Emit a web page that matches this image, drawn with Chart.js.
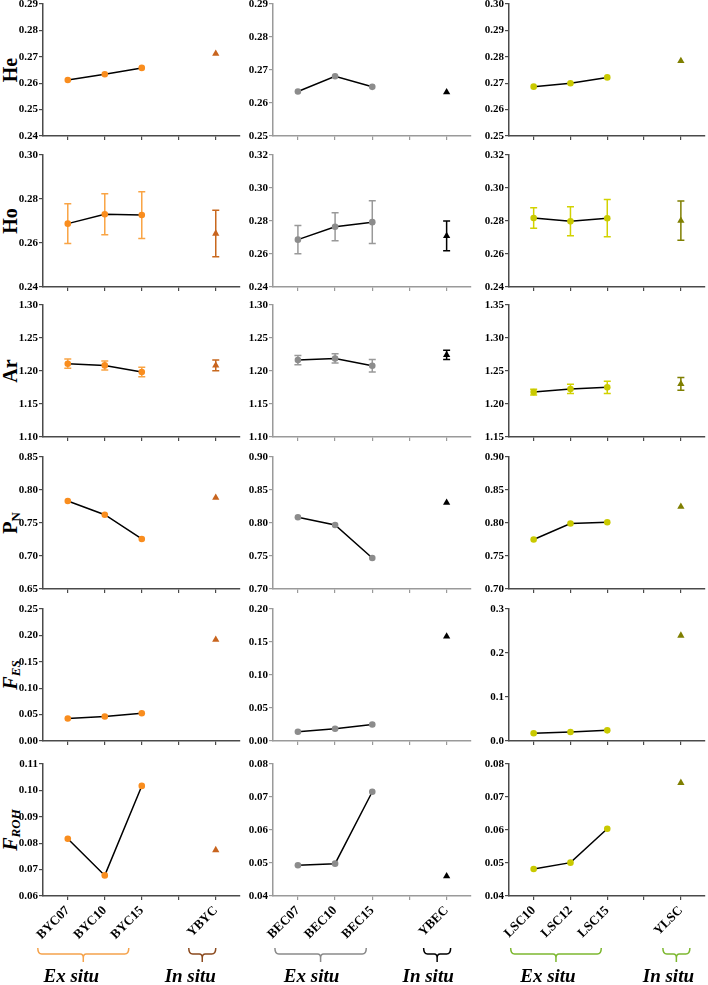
<!DOCTYPE html>
<html>
<head>
<meta charset="utf-8">
<script src="https://cdn.jsdelivr.net/npm/chart.js@4.4.1/dist/chart.umd.min.js"></script>
<style>
  body { margin: 0; background: #fff; width: 708px; height: 985px; position: relative; overflow: hidden; font-family: 'Liberation Serif', serif; }
  canvas { position: absolute; }
  .ytitle { position: absolute; width: 132px; height: 24px; line-height: 24px; text-align: center;
            font-weight: bold; font-size: 20px; transform: rotate(-90deg); white-space: nowrap; }
  .ytitle sub { font-size: 13px; vertical-align: -3px; }
</style>
</head>
<body>
<script>
// categories (4th slot is the empty gap between ex situ and in situ)
const catsBYC = ['BYC07', 'BYC10', 'BYC15', '', 'YBYC'];
const catsBEC = ['BEC07', 'BEC10', 'BEC15', '', 'YBEC'];
const catsLSC = ['LSC10', 'LSC12', 'LSC15', '', 'YLSC'];

// values: three ex situ populations, then the in situ one
const heBYC = [0.2612, 0.2634, 0.2658, 0.2712];
const heBEC = [0.2635, 0.2681, 0.2649, 0.2633];
const heLSC = [0.2687, 0.2700, 0.2722, 0.2784];

const hoBYC = [0.2688, 0.2731, 0.2727, 0.2643];
const hoErrBYC = [0.0090, 0.0093, 0.0106, 0.0106];
const hoBEC = [0.2687, 0.2765, 0.2793, 0.2710];
const hoErrBEC = [0.0086, 0.0085, 0.0130, 0.0090];
const hoLSC = [0.2818, 0.2798, 0.2817, 0.2802];
const hoErrLSC = [0.0062, 0.0088, 0.0113, 0.0119];

const arBYC = [1.2110, 1.2085, 1.1985, 1.2085];
const arErrBYC = [0.0070, 0.0068, 0.0073, 0.0083];
const arBEC = [1.2165, 1.2190, 1.2080, 1.2245];
const arErrBEC = [0.0070, 0.0070, 0.0096, 0.0070];
const arLSC = [1.2180, 1.2228, 1.2252, 1.2305];
const arErrLSC = [0.0043, 0.0070, 0.0094, 0.0097];

const pnBYC = [0.7833, 0.7626, 0.7258, 0.7883];
const pnBEC = [0.8086, 0.7970, 0.7470, 0.8308];
const pnLSC = [0.7750, 0.7993, 0.8012, 0.8246];

const fesBYC = [0.0426, 0.0464, 0.0526, 0.1920];
const fesBEC = [0.0140, 0.0185, 0.0251, 0.1583];
const fesLSC = [0.0175, 0.0204, 0.0242, 0.2397];

const frohBYC = [0.0817, 0.0678, 0.1017, 0.0774];
const frohBEC = [0.0493, 0.0498, 0.0716, 0.0460];
const frohLSC = [0.0482, 0.0501, 0.0604, 0.0743];

// y axis ranges per column
const heMin = [0.24, 0.25, 0.25], heMax = [0.29, 0.29, 0.30], heStep = [0.01, 0.01, 0.01];
const hoMin = [0.24, 0.24, 0.24], hoMax = [0.30, 0.32, 0.32], hoStep = [0.02, 0.02, 0.02];
const arMin = [1.10, 1.10, 1.15], arMax = [1.30, 1.30, 1.35], arStep = [0.05, 0.05, 0.05];
const pnMin = [0.65, 0.70, 0.70], pnMax = [0.85, 0.90, 0.90], pnStep = [0.05, 0.05, 0.05];
const fesMin = [0, 0, 0], fesMax = [0.25, 0.20, 0.3], fesStep = [0.05, 0.05, 0.1];
const frohMin = [0.06, 0.04, 0.04], frohMax = [0.11, 0.08, 0.08], frohStep = [0.01, 0.01, 0.01];

const rows = [
  { title: 'He', vals: [heBYC, heBEC, heLSC], min: heMin, max: heMax, step: heStep },
  { title: 'Ho', vals: [hoBYC, hoBEC, hoLSC], err: [hoErrBYC, hoErrBEC, hoErrLSC], min: hoMin, max: hoMax, step: hoStep },
  { title: 'Ar', vals: [arBYC, arBEC, arLSC], err: [arErrBYC, arErrBEC, arErrLSC], min: arMin, max: arMax, step: arStep },
  { title: 'P<sub>N</sub>', vals: [pnBYC, pnBEC, pnLSC], min: pnMin, max: pnMax, step: pnStep },
  { title: '<i>F</i><sub><i>ES</i></sub>', vals: [fesBYC, fesBEC, fesLSC], min: fesMin, max: fesMax, step: fesStep },
  { title: '<i>F</i><sub><i>ROH</i></sub>', vals: [frohBYC, frohBEC, frohLSC], min: frohMin, max: frohMax, step: frohStep }
];

// colours and brace offsets (px relative to the tick positions) per column
const groups = [
  { cats: catsBYC, ex: '#F98D1E', inn: '#C8641E', exErr: '#F9A444', inErr: '#C8681E', axis: '#4a4a4a',
    exBrace: '#F5A34C', inBrace: '#8B4A1E', exSpan: [-30, -13], inSpan: [-27, 0], textShift: -12 },
  { cats: catsBEC, ex: '#8C8C8C', inn: '#000000', exErr: '#999999', inErr: '#000000', axis: '#9a9a9a',
    exBrace: '#8a8a8a', inBrace: '#000000', exSpan: [-23, -6], inSpan: [-23, 4], textShift: -9 },
  { cats: catsLSC, ex: '#C9C900', inn: '#7F7F00', exErr: '#D2D200', inErr: '#7F7F00', axis: '#4a4a4a',
    exBrace: '#7DB830', inBrace: '#7DB830', exSpan: [-23, -6], inSpan: [-18, 9], textShift: -8 }
];

// layout of the plot areas on the page
const rowTop = [4, 155, 305, 457, 609, 764];
const plotH = 132;
const colLeft = [43, 273, 509];
const colRight = [242, 473, 707];

const errorBars = {
  id: 'errorBars',
  beforeDatasetsDraw(chart) {
    const { ctx, scales: { x, y } } = chart;
    chart.data.datasets.forEach(ds => {
      if (!ds.errs) return;
      ctx.save();
      ctx.strokeStyle = ds.errColor;
      ctx.lineWidth = 1.5;
      ds.data.forEach((p, i) => {
        const px = x.getPixelForValue(p.x);
        const y1 = y.getPixelForValue(p.y + ds.errs[i]);
        const y2 = y.getPixelForValue(p.y - ds.errs[i]);
        ctx.beginPath();
        ctx.moveTo(px, y1); ctx.lineTo(px, y2);
        ctx.moveTo(px - 3.5, y1); ctx.lineTo(px + 3.5, y1);
        ctx.moveTo(px - 3.5, y2); ctx.lineTo(px + 3.5, y2);
        ctx.stroke();
      });
      ctx.restore();
    });
  }
};

const braces = {
  id: 'braces',
  afterDraw(chart, args, opts) {
    if (!opts.show) return;
    const { ctx, chartArea, scales: { x } } = chart;
    const G = opts.group;
    const yb = chartArea.bottom + 58;
    const spans = [
      { a: x.getPixelForValue(1) + G.exSpan[0], b: x.getPixelForValue(3) + G.exSpan[1], color: G.exBrace, text: 'Ex situ' },
      { a: x.getPixelForValue(5) + G.inSpan[0], b: x.getPixelForValue(5) + G.inSpan[1], color: G.inBrace, text: 'In situ' }
    ];
    spans.forEach(s => {
      const m = (s.a + s.b) / 2;
      ctx.save();
      ctx.strokeStyle = s.color;
      ctx.lineWidth = 1.5;
      ctx.beginPath();
      ctx.moveTo(s.a, yb - 6);
      ctx.quadraticCurveTo(s.a, yb, s.a + 4, yb);
      ctx.lineTo(m - 3, yb);
      ctx.quadraticCurveTo(m, yb, m, yb + 4);
      ctx.lineTo(m, yb + 8);
      ctx.moveTo(m, yb + 4);
      ctx.quadraticCurveTo(m, yb, m + 3, yb);
      ctx.lineTo(s.b - 4, yb);
      ctx.quadraticCurveTo(s.b, yb, s.b, yb - 6);
      ctx.stroke();
      ctx.fillStyle = '#000';
      ctx.font = 'italic bold 19px "Liberation Serif"';
      ctx.textAlign = 'center';
      ctx.fillText(s.text, m + G.textShift, chartArea.bottom + 86);
      ctx.restore();
    });
  }
};

function panel(r, c) {
  const R = rows[r], G = groups[c];
  const last = r === rows.length - 1;
  const top = rowTop[r] - 8;
  const h = last ? 985 - top : plotH + 16;
  const left = colLeft[c] - 36;
  const w = colRight[c] - left + 2;
  const xH = h - 8 - plotH;

  const cv = document.createElement('canvas');
  cv.style.left = left + 'px';
  cv.style.top = top + 'px';
  cv.style.width = w + 'px';
  cv.style.height = h + 'px';
  cv.width = w;
  cv.height = h;
  document.body.appendChild(cv);

  const v = R.vals[c];
  const e = R.err ? R.err[c] : null;
  const step = R.step[c];
  const dec = step >= 0.1 ? 1 : 2;

  new Chart(cv, {
    type: 'scatter',
    data: {
      datasets: [
        {
          data: v.slice(0, 3).map((y, i) => ({ x: i + 1, y })),
          showLine: true,
          borderColor: '#000',
          borderWidth: 1.5,
          pointRadius: 3.3,
          pointBackgroundColor: G.ex,
          pointBorderWidth: 0,
          errs: e ? e.slice(0, 3) : null,
          errColor: G.exErr
        },
        {
          data: [{ x: 5, y: v[3] }],
          showLine: false,
          pointStyle: 'triangle',
          pointRadius: 4.2,
          pointBackgroundColor: G.inn,
          pointBorderWidth: 0,
          errs: e ? [e[3]] : null,
          errColor: G.inErr
        }
      ]
    },
    options: {
      responsive: false,
      animation: false,
      layout: { padding: { top: 8, right: 2, left: 0, bottom: 0 } },
      plugins: {
        legend: { display: false },
        tooltip: { enabled: false },
        braces: { show: last, group: G }
      },
      scales: {
        x: {
          type: 'linear',
          min: 0.33,
          max: 5.65,
          afterBuildTicks: s => { s.ticks = [1, 2, 3, 4, 5].map(value => ({ value })); },
          afterFit: s => { s.height = xH; },
          border: { color: G.axis, width: 1.5 },
          grid: { drawOnChartArea: false, tickLength: 4, color: G.axis, lineWidth: 1.2 },
          ticks: {
            display: last,
            autoSkip: false,
            minRotation: 45,
            maxRotation: 45,
            padding: 3,
            color: '#000',
            font: { family: 'Liberation Serif', weight: 'bold', size: 13 },
            callback: value => G.cats[value - 1]
          }
        },
        y: {
          min: R.min[c],
          max: R.max[c],
          afterBuildTicks: s => {
            const n = Math.round((R.max[c] - R.min[c]) / step);
            s.ticks = [];
            for (let i = 0; i <= n; i++) s.ticks.push({ value: +(R.min[c] + i * step).toFixed(4) });
          },
          afterFit: s => { s.width = 36; },
          border: { color: G.axis, width: 1.5 },
          grid: { drawOnChartArea: false, tickLength: 4, color: G.axis, lineWidth: 1.2 },
          ticks: {
            padding: 1,
            color: '#000',
            font: { family: 'Liberation Serif', weight: 'bold', size: 11 },
            callback: value => value.toFixed(dec)
          }
        }
      }
    },
    plugins: [errorBars, braces]
  });
}

rows.forEach((R, r) => {
  const t = document.createElement('div');
  t.className = 'ytitle';
  t.innerHTML = R.title;
  t.style.left = (10 - 66) + 'px';
  t.style.top = (rowTop[r] + plotH / 2 - 12) + 'px';
  document.body.appendChild(t);
  for (let c = 0; c < groups.length; c++) panel(r, c);
});
</script>
</body>
</html>
